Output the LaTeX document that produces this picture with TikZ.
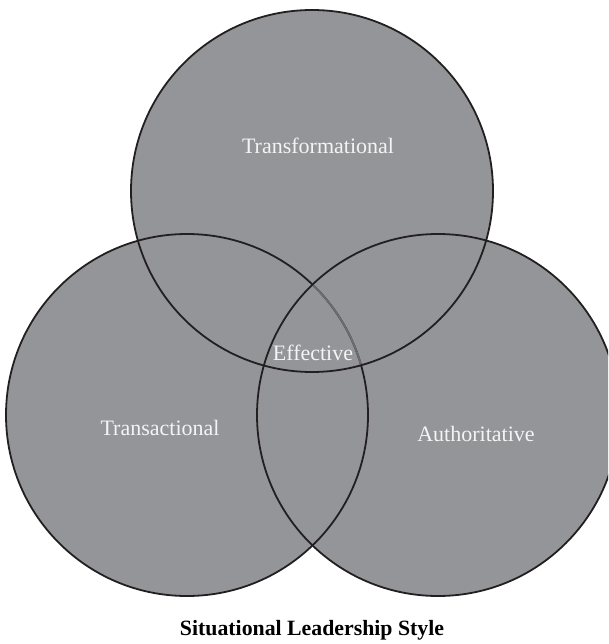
\documentclass[tikz,border=0pt]{standalone}
\usepackage{fontspec}
\setmainfont{Liberation Serif}
\definecolor{venngrey}{HTML}{939598}
\definecolor{vennline}{HTML}{231F20}
\definecolor{vennsoft}{HTML}{6D6E71}
\definecolor{vennlabel}{HTML}{F4F4F4}
\begin{document}
\begin{tikzpicture}[x=1pt,y=-1pt,
  venn/.style={circle, minimum size=362pt, inner sep=0pt, outer sep=0pt, fill=venngrey},
  vennedge/.style={circle, minimum size=362pt, inner sep=0pt, outer sep=0pt, draw=vennline, line width=1.8pt},
  lbl/.style={text=vennlabel, font=\fontsize{22}{26}\selectfont, inner sep=0pt},
  ttl/.style={text=black, font=\fontsize{21.8}{26}\selectfont\bfseries, inner sep=0pt}]
\clip (0,0) rectangle (608,644);
\useasboundingbox (0,0) rectangle (608,644);
% fills
\node[venn] (tf) at (312,191) {};
\node[venn] (tc) at (187,415) {};
\node[venn] (au) at (438,415) {};
% outlines
\node[vennedge] (tfe) at (tf) {};
\node[vennedge] (tce) at (tc) {};
\node[vennedge] (aue) at (au) {};
% lighter arc of the left circle inside the centre region
\begin{scope}
  \clip (tf) circle (180);
  \clip (au) circle (180);
  \draw[vennsoft, line width=1.8pt] (tc) circle (181);
\end{scope}
% labels
\node[lbl] (ltf) at (318,146) {Transformational};
\node[lbl] (lef) at (313,353) {Effective};
\node[lbl] (ltc) at (160,428) {Transactional};
\node[lbl] (lau) at (476,434) {Authoritative};
\node[ttl] (title) at (312,630) {Situational Leadership Style};
\end{tikzpicture}
\end{document}
